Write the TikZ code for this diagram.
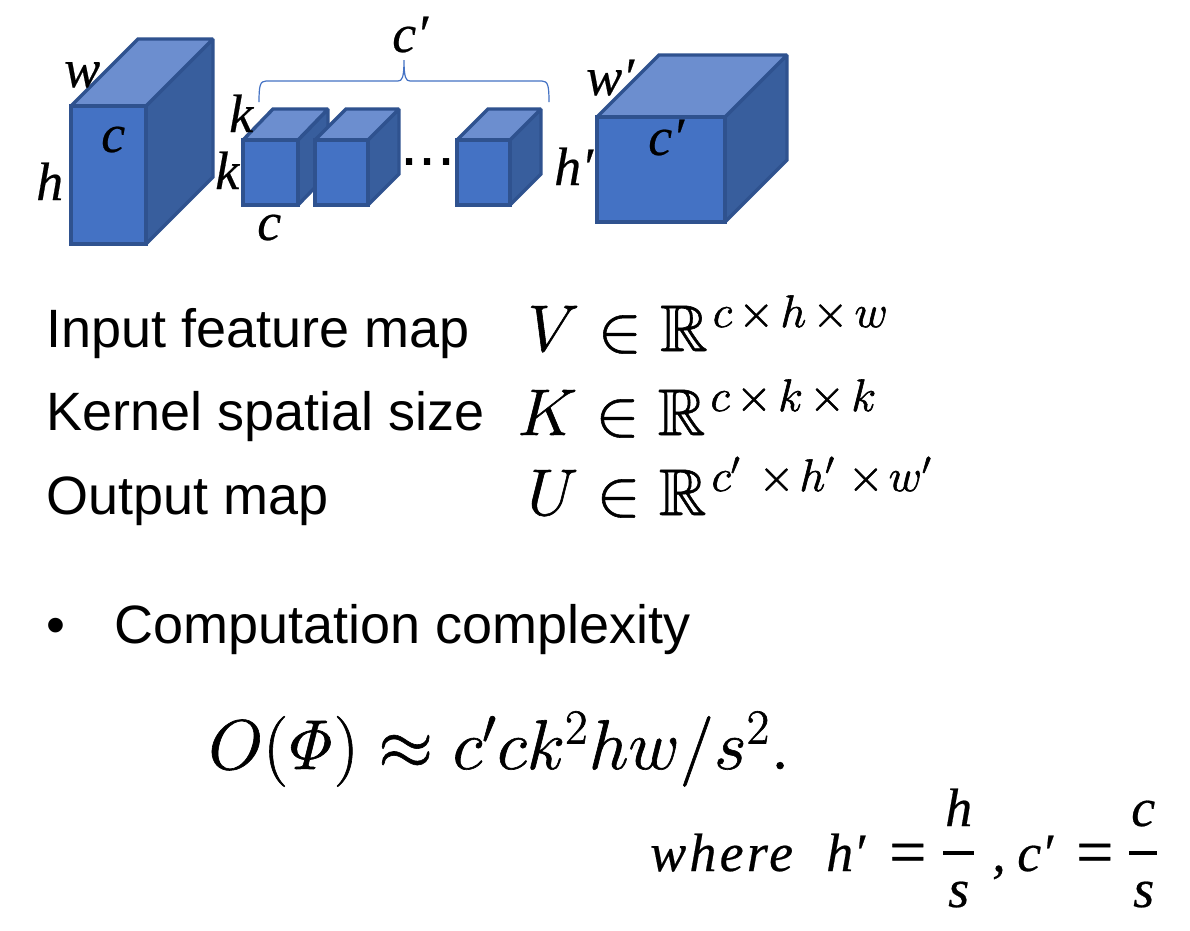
\documentclass[tikz,border=0pt]{standalone}
\usepackage{amsmath,amssymb}
\usepackage[no-math]{fontspec}
\setmainfont{Liberation Sans}
\newfontfamily\cambria[ItalicFeatures={FakeBold=0.4}]{Liberation Serif}
\newfontfamily\cambriaeq[FakeBold=0.5]{Liberation Serif}
\DeclareMathSizes{24.88}{24.88}{17.28}{12}
\usetikzlibrary{calc}
\definecolor{frontblue}{HTML}{4472C4}
\definecolor{topblue}{HTML}{6C8ECF}
\definecolor{sideblue}{HTML}{385E9D}
\definecolor{edgeblue}{HTML}{2F528F}
\newcommand{\blockcube}[7]{%
 \coordinate (#7fa) at (#1,#3);
 \coordinate (#7fb) at (#2,#3);
 \coordinate (#7fc) at (#2,#4);
 \coordinate (#7fd) at (#1,#4);
 \coordinate (#7ba) at ($(#7fa)+(#5,-#6)$);
 \coordinate (#7bb) at ($(#7fb)+(#5,-#6)$);
 \coordinate (#7bc) at ($(#7fc)+(#5,-#6)$);
 \draw[cubeedge,fill=sideblue] (#7fb)--(#7bb)--(#7bc)--(#7fc)--cycle;
 \draw[cubeedge,fill=topblue] (#7fa)--(#7ba)--(#7bb)--(#7fb)--cycle;
 \draw[cubeedge,fill=frontblue] (#7fa)--(#7fb)--(#7fc)--(#7fd)--cycle;
}
\newcommand{\prm}{\char"2032\relax}
\newcommand{\heavy}[1]{\special{pdf:code 2 Tr 0.22 w}#1\special{pdf:code 0 Tr 1 w}}
\tikzset{
 x=1pt,y=-1pt,
 cubeedge/.style={draw=edgeblue,line width=3.4pt,line join=miter,miter limit=1.6},
 varlabel/.style={inner sep=0pt,anchor=base west,font=\fontsize{54}{58}\selectfont\cambria\itshape,text=black},
 bodytext/.style={inner sep=0pt,anchor=base west,font=\fontsize{54}{60}\selectfont,text=black},
 eqn/.style={inner sep=0pt,anchor=base west,font=\fontsize{24.88}{30}\selectfont,text=black,scale=2.65,transform shape},
 bigeqn/.style={inner sep=0pt,anchor=base west,font=\fontsize{24.88}{30}\selectfont,text=black,scale=2.83,transform shape},
 wheretext/.style={inner sep=0pt,anchor=base west,font=\fontsize{54}{58}\selectfont\cambria\itshape,text=black},
 whereeq/.style={inner sep=0pt,anchor=base west,font=\fontsize{66}{70}\selectfont\cambriaeq,text=black},
 fracbar/.style={black,line width=4.5pt},
}
\begin{document}
\begin{tikzpicture}
\useasboundingbox (0,0) rectangle (1190,930);
\fill[white] (0,0) rectangle (1190,930);
\blockcube{71}{146}{106}{244}{67}{67}{a}
\blockcube{243}{298}{140}{205}{30}{31}{b}
\blockcube{315}{368}{140}{205}{31}{31}{d}
\blockcube{457}{510}{140}{205}{31}{31}{e}
\blockcube{597}{725}{117}{222}{62}{62}{f}
\coordinate (bl) at (259,102);
\coordinate (br) at (549,102);
\coordinate (bt) at (404,60);
\draw[frontblue,line width=1.2pt] (bl) .. controls (259,86) and (260,81) .. (266,81) -- (398,81) .. controls (402,81) and (404,78) .. (bt) .. controls (404,78) and (406,81) .. (410,81) -- (542,81) .. controls (548,81) and (549,86) .. (br);
\node[varlabel] (lw) at (64,87) {w};
\node[varlabel] (lc) at (101,152) {c};
\node[varlabel] (lh) at (36,200) {h};
\node[varlabel] (lk) at (229,132) {k};
\node[varlabel] (lkb) at (215,189) {k};
\node[varlabel] (lcb) at (257,240) {c};
\node[varlabel] (lcp) at (392,52) {c\prm};
\node[inner sep=0pt,anchor=base,font=\fontsize{65}{65}\selectfont] (dots) at (428,165) {...};
\node[varlabel] (lwp) at (586,95) {w\prm};
\node[varlabel] (lhp) at (554,185) {h\prm};
\node[varlabel] (lcq) at (648,155) {c\prm};
\node[bodytext] (t1) at (46,347) {Input feature map};
\node[bodytext] (t2) at (46,430) {Kernel spatial size};
\node[bodytext] (t3) at (46,514) {Output map};
\node[bodytext] (t4) at (46,643) {•};
\node[bodytext] (t5) at (114,643) {Computation complexity};
\node[eqn] (e1) at (527,351) {\heavy{$V\in\mathbb{R}^{\mskip2mu c\mskip2.5mu\times\mskip2.5mu h\mskip2.5mu\times\mskip2.5mu w}$}};
\node[eqn] (e2) at (517,435) {\heavy{$K\in\mathbb{R}^{\mskip2mu c\mskip2.5mu\times\mskip2.5mu k\mskip2.5mu\times\mskip2.5mu k}$}};
\node[eqn] (e3) at (527,515) {\heavy{$U\in\mathbb{R}^{\mskip2mu c'\mskip7mu\times\mskip2mu h'\mskip5mu\times\mskip2mu w'}$}};
\node[bigeqn] (e4) at (208,769) {\heavy{$O(\mskip-2mu\mathit{\Phi})\approx c'ck^2hw/s^2.$}};
\node[wheretext] (w1) at (650,871) {\addfontfeature{LetterSpace=6}where};
\node[wheretext] (w2) at (826,871) {h\prm};
\node[whereeq] (w3) at (889,874) {=};
\node[wheretext] (w4) at (945,826) {h};
\node[wheretext] (w5) at (948,907) {s};
\coordinate (b1a) at (943,853);
\coordinate (b1b) at (974,853);
\draw[fracbar] (b1a) -- (b1b);
\node[wheretext] (w6) at (992,871) {,};
\node[wheretext] (w7) at (1017,871) {c\prm};
\node[whereeq] (w8) at (1076,874) {=};
\node[wheretext] (w9) at (1131,826) {c};
\node[wheretext] (w10) at (1133,907) {s};
\coordinate (b2a) at (1129,853);
\coordinate (b2b) at (1157,853);
\draw[fracbar] (b2a) -- (b2b);
\end{tikzpicture}
\end{document}
